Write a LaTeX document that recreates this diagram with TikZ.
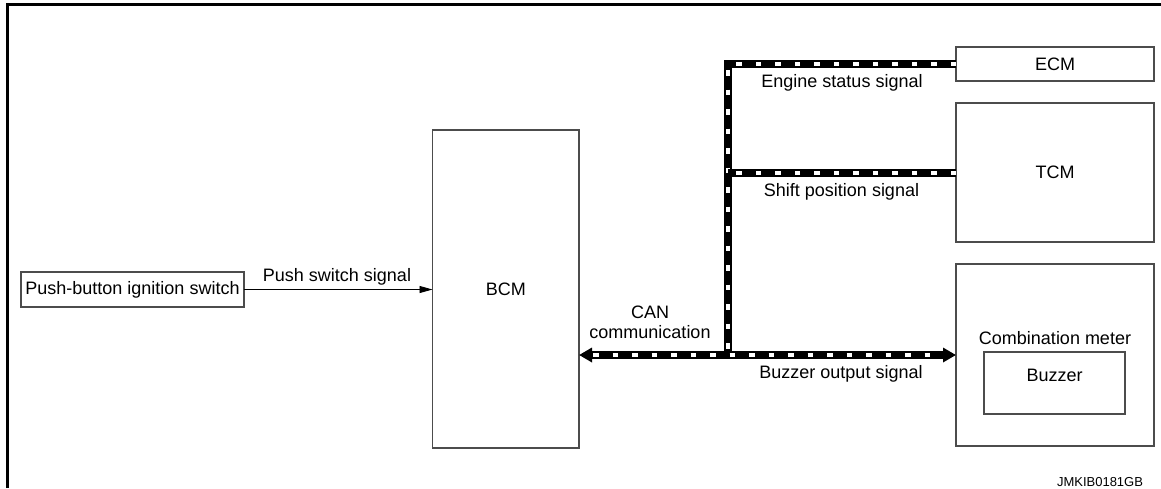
\documentclass[tikz,border=0pt]{standalone}
\usepackage{fontspec}
\setmainfont{Liberation Sans}
\usetikzlibrary{arrows.meta}
\begin{document}
\begin{tikzpicture}[x=1pt,y=-1pt,
  every node/.style={font=\fontsize{18}{20}\selectfont, inner sep=0pt, outer sep=0pt},
  unit/.style={draw=black!70, line width=1.3pt, minimum width=#1},
  lbl/.style={anchor=base},
  sig/.style={line width=0.9pt, -{Triangle[length=13pt, width=7pt]}},
  bus/.style={line width=8pt, draw=black,
    postaction={draw=white, line width=4pt, dash pattern=on 5.5pt off 14pt, arrows=-}},
  busarrow/.style={line width=8pt, draw=black,
    {Triangle[length=13pt, width=14pt]}-{Triangle[length=13pt, width=14pt]},
    postaction={draw=white, line width=4pt, dash pattern=on 5.5pt off 14pt,
      arrows=-, shorten <=14pt, shorten >=14pt}}]
  \useasboundingbox (0,0) rectangle (1161,488);

  % outer frame (top and left edges)
  \draw[line width=3pt] (7.5,488) -- (7.5,4.5) -- (1161,4.5);

  % control units
  \node[unit=223pt, minimum height=35pt] (pbs) at (132.5,289.5) {Push-button ignition switch};
  \node[unit=146.5pt, minimum height=318pt] (bcm) at (505.75,289) {BCM};
  \node[unit=198pt, minimum height=34pt] (ecm) at (1055,64) {ECM};
  \node[unit=198pt, minimum height=139pt] (tcm) at (1055,172.5) {TCM};
  \node[unit=198pt, minimum height=182pt] (cmb) at (1055,355) {};
  \node[lbl] (cmbtitle) at (1055,344) {Combination meter};
  \node[unit=141pt, minimum height=62pt] (buz) at (1054.5,383) {};
  \node[lbl] (buztext) at (1054.5,381.5) {Buzzer};

  % hard-wired push switch signal
  \draw[sig] (pbs.east) -- (pbs.east -| bcm.west);
  \node[lbl] (pushlbl) at (337,281) {Push switch signal};

  % CAN bus
  \coordinate (jb) at (728,355);
  \draw[bus] (ecm.west) -| (jb |- cmb.west);
  \draw[bus] (tcm.west) -- (tcm.west -| jb);
  \draw[busarrow] (bcm.east |- cmb.west) -- (cmb.west);

  % signal labels
  \node[lbl] (englbl) at (842,87.5) {Engine status signal};
  \node[lbl] (shiftlbl) at (841.5,196.5) {Shift position signal};
  \node[lbl] (buzlbl) at (841,378.5) {Buzzer output signal};
  \node[anchor=north, align=center] (canlbl) at (650,305.5) {CAN\\communication};

  % drawing number
  \node[anchor=base east, font=\fontsize{13}{15}\selectfont] (code) at (1143,486) {JMKIB0181GB};
\end{tikzpicture}
\end{document}
